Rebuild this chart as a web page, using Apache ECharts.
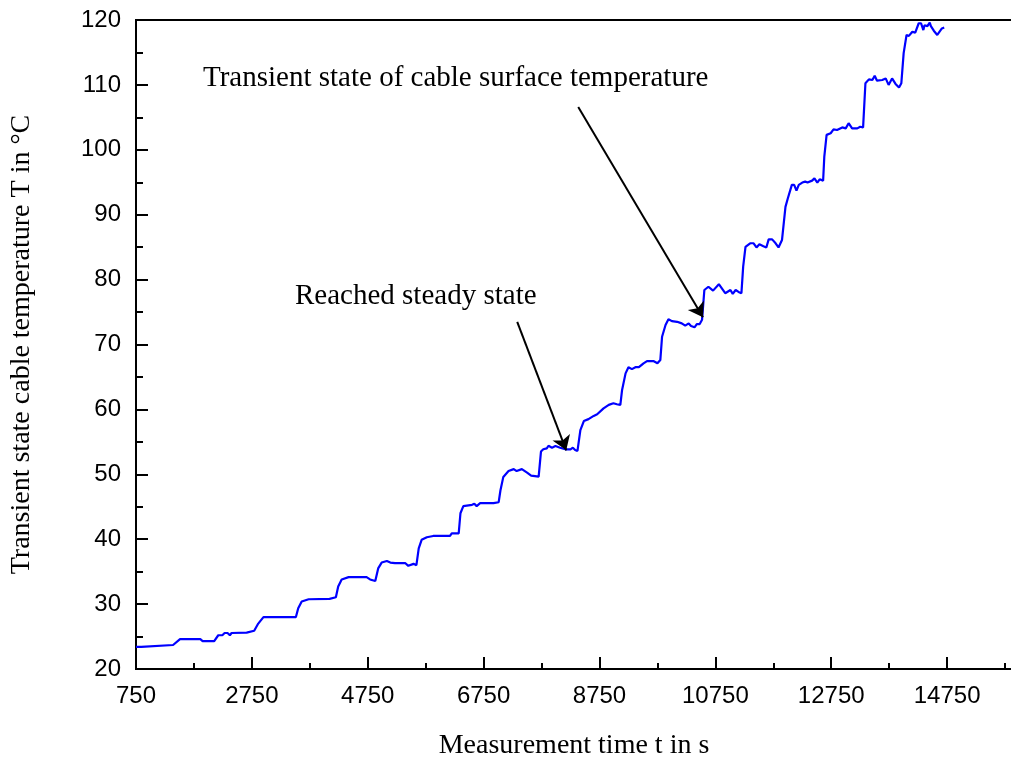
<!DOCTYPE html>
<html>
<head>
<meta charset="utf-8">
<script src="https://cdn.jsdelivr.net/npm/echarts@6/dist/echarts.min.js"></script>
<style>html,body{margin:0;padding:0;background:#fff;}#c{width:1011px;height:760px;}</style>
</head>
<body>
<div id="c"></div>
<script>
// Measurement time in s
const timeS = [
  750, 840, 870, 1390, 1510, 1860, 1900, 2100, 2170, 2240,
  2280, 2330, 2370, 2400, 2660, 2690, 2790, 2860, 2950, 3510,
  3550, 3610, 3730, 4090, 4120, 4200, 4240, 4300, 4420, 4730,
  4790, 4880, 4930, 4990, 5080, 5140, 5170, 5220, 5400, 5450,
  5540, 5590, 5630, 5680, 5770, 5880, 6170, 6200, 6320, 6350,
  6400, 6550, 6590, 6630, 6690, 6920, 7010, 7040, 7090, 7180,
  7270, 7320, 7410, 7500, 7570, 7700, 7740, 7780, 7840, 7870,
  7930, 7990, 8070, 8160, 8250, 8290, 8330, 8370, 8420, 8480,
  8560, 8650, 8710, 8820, 8910, 8990, 9050, 9110, 9140, 9200,
  9250, 9310, 9370, 9430, 9510, 9570, 9680, 9750, 9800, 9830,
  9890, 9940, 10000, 10090, 10170, 10230, 10290, 10330, 10390, 10430,
  10480, 10520, 10560, 10630, 10710, 10810, 10920, 11010, 11050, 11100,
  11150, 11200, 11230, 11270, 11350, 11410, 11460, 11510, 11580, 11630,
  11670, 11730, 11790, 11840, 11900, 11960, 12000, 12070, 12110, 12150,
  12190, 12250, 12300, 12340, 12420, 12460, 12510, 12550, 12610, 12630,
  12670, 12740, 12790, 12850, 12940, 13000, 13050, 13110, 13200, 13250,
  13300, 13340, 13400, 13460, 13500, 13540, 13630, 13690, 13740, 13800,
  13860, 13920, 13960, 14000, 14050, 14090, 14150, 14200, 14260, 14300,
  14340, 14360, 14410, 14450, 14470, 14520, 14580, 14620, 14660, 14700
];
// Transient cable temperature in °C
const tempC = [
  23.4, 23.4, 23.7, 23.7, 24.6, 24.6, 24.3, 24.3, 25.2, 25.2,
  25.55, 25.55, 25.2, 25.55, 25.6, 25.9, 25.9, 27.0, 28.0, 28.0,
  29.35, 30.4, 30.75, 30.8, 31.05, 31.05, 32.7, 33.8, 34.15, 34.15,
  33.8, 33.55, 35.5, 36.4, 36.65, 36.4, 36.65, 36.3, 36.3, 35.9,
  36.2, 36.0, 38.6, 39.9, 40.3, 40.5, 40.5, 40.9, 40.9, 44.0,
  45.1, 45.3, 45.45, 45.1, 45.55, 45.55, 45.7, 47.5, 49.6, 50.5,
  50.8, 50.5, 50.8, 50.25, 49.8, 49.65, 53.5, 53.85, 54.0, 54.4,
  54.1, 54.35, 54.1, 53.85, 53.85, 54.1, 53.75, 53.6, 56.8, 58.2,
  58.5, 59.0, 59.25, 60.15, 60.7, 60.95, 60.8, 60.7, 63.0, 65.55,
  66.5, 66.2, 66.5, 66.5, 67.1, 67.45, 67.45, 67.1, 67.6, 71.2,
  73.0, 73.9, 73.6, 73.5, 73.25, 72.9, 73.25, 72.85, 72.65, 73.15,
  73.15, 73.8, 78.4, 78.9, 78.3, 79.3, 77.9, 78.4, 77.8, 78.4,
  78.1, 77.9, 82.0, 85.05, 85.6, 85.6, 84.95, 85.45, 85.15, 84.95,
  86.2, 86.2, 85.6, 84.95, 86.1, 91.2, 92.5, 94.6, 94.6, 93.7,
  94.6, 94.95, 95.1, 94.95, 95.25, 95.6, 94.95, 95.45, 95.25, 98.9,
  102.3, 102.55, 103.15, 103.05, 103.45, 103.3, 104.1, 103.3, 103.3, 103.55,
  103.45, 110.25, 110.85, 110.75, 111.4, 110.65, 110.75, 111.0, 110.0, 111.0,
  110.15, 109.6, 110.25, 114.9, 117.7, 117.55, 118.2, 118.05, 119.5, 119.5,
  118.45, 119.2, 119.05, 119.6, 119.05, 118.35, 117.7, 118.2, 118.7, 118.85
];
const xLabels = [750, 2750, 4750, 6750, 8750, 10750, 12750, 14750];
const yLabels = [20, 30, 40, 50, 60, 70, 80, 90, 100, 110, 120];
const annotations = [
  { text: 'Transient state of cable surface temperature', from: [8383, 106.6], to: [10536, 74.2] },
  { text: 'Reached steady state', from: [7330, 73.5], to: [8176, 53.7] }
];

const X_MIN = 750, X_MAX = 15870, Y_MIN = 20, Y_MAX = 120;
const sans = '"Liberation Sans", Arial, sans-serif';
const serif = '"Liberation Serif", "Times New Roman", serif';

const chart = echarts.init(document.getElementById('c'), null, { renderer: 'canvas' });
const data = timeS.map((t, i) => [t, tempC[i]]);

chart.setOption({
  animation: false,
  backgroundColor: '#ffffff',
  grid: {
    left: 136, right: -1, top: 20, bottom: 91,
    outerBoundsMode: 'none', containLabel: false,
    show: true, borderColor: '#000', borderWidth: 2, backgroundColor: 'transparent'
  },
  xAxis: [
    {
      type: 'value', position: 'bottom', min: X_MIN, max: X_MAX, interval: 2000,
      splitLine: { show: false },
      axisLine: { lineStyle: { color: '#000', width: 2 } },
      axisTick: { inside: true, length: 12, lineStyle: { color: '#000', width: 2 } },
      axisLabel: {
        color: '#000', fontSize: 24, fontFamily: sans, margin: 15,
        formatter: v => (xLabels.indexOf(v) >= 0 ? String(v) : '')
      },
      name: 'Measurement time t in s', nameLocation: 'middle', nameGap: 63,
      nameTextStyle: { color: '#000', fontSize: 28, fontFamily: serif }
    },
    {
      type: 'value', position: 'top', offset: -649, min: X_MIN, max: X_MAX, interval: 1000,
      splitLine: { show: false },
      axisLine: { show: false },
      axisTick: { inside: false, length: 6, lineStyle: { color: '#000', width: 2 } },
      axisLabel: { show: false }
    }
  ],
  yAxis: {
    type: 'value', min: Y_MIN, max: Y_MAX, interval: 10,
    splitLine: { show: false },
    axisLine: { lineStyle: { color: '#000', width: 2 } },
    axisTick: { inside: true, length: 12, lineStyle: { color: '#000', width: 2 } },
    minorTick: { show: true, splitNumber: 2, length: 7, lineStyle: { color: '#000', width: 2 } },
    axisLabel: {
      color: '#000', fontSize: 24, fontFamily: sans, margin: 15,
      formatter: v => (yLabels.indexOf(v) >= 0 ? String(v) : '')
    },
    name: 'Transient state cable temperature T in \u00B0C', nameLocation: 'middle', nameGap: 100,
    nameTextStyle: { color: '#000', fontSize: 28, fontFamily: serif }
  },
  series: [{
    type: 'line', xAxisIndex: 0, yAxisIndex: 0, data: data,
    showSymbol: false, symbol: 'none',
    lineStyle: { color: '#0000ff', width: 2.2 },
    markLine: {
      silent: true, symbol: ['none', 'arrow'], symbolSize: 14,
      label: { show: false },
      lineStyle: { color: '#000', width: 2, type: 'solid' },
      data: annotations.map(a => [{ coord: a.from }, { coord: a.to }])
    }
  }],
  graphic: [
    { type: 'text', left: 203, top: 64, style: { text: annotations[0].text, font: '29px ' + serif, fill: '#000' } },
    { type: 'text', left: 295, top: 282, style: { text: annotations[1].text, font: '29px ' + serif, fill: '#000' } }
  ]
});
</script>
</body>
</html>
